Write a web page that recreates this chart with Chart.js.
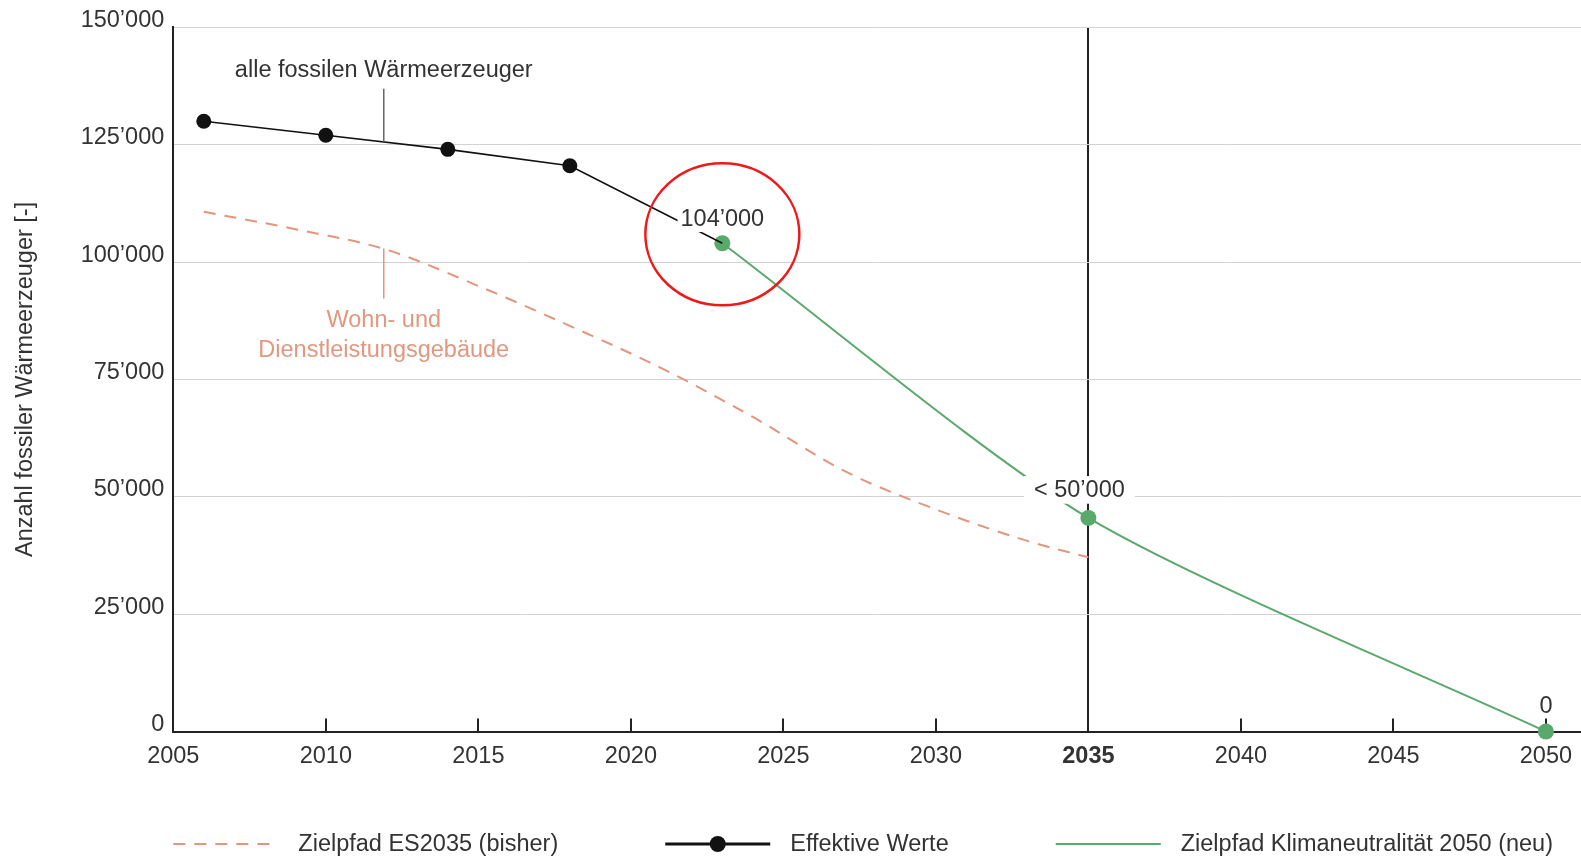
<!DOCTYPE html>
<html>
<head>
<meta charset="utf-8">
<title>Anzahl fossiler Wärmeerzeuger</title>
<script src="https://cdn.jsdelivr.net/npm/chart.js@4/dist/chart.umd.min.js"></script>
<style>
  html, body { margin: 0; padding: 0; background: #fff; overflow: hidden; }
  #wrap { width: 1581px; height: 858px; }
  canvas { display: block; }
</style>
</head>
<body>
<div id="wrap"><canvas id="c" width="1581" height="858"></canvas></div>
<script>
// ---- Daten ----
const effektivJahre = [2006, 2010, 2014, 2018, 2023];
const effektivWerte = [130000, 127000, 124000, 120500, 104000];

const es2035Jahre = [2006, 2009, 2012, 2015, 2018, 2021, 2024, 2027, 2030, 2033, 2035];
const es2035Werte = [110700, 107000, 102600, 94900, 86400, 77400, 67000, 55500, 47300, 40600, 37100];

const klimaJahre = [2023, 2035, 2050];
const klimaWerte = [104000, 45500, 0];
const klimaLabels = ['104\u2019000', '< 50\u2019000', '0'];

const xTickJahre = [2005, 2010, 2015, 2020, 2025, 2030, 2035, 2040, 2045, 2050];
const yTickWerte = [0, 25000, 50000, 75000, 100000, 125000, 150000];

const serienNamen = ['Zielpfad ES2035 (bisher)', 'Effektive Werte', 'Zielpfad Klimaneutralit\u00e4t 2050 (neu)'];
const yTitel = 'Anzahl fossiler W\u00e4rmeerzeuger [-]';
const hinweisFossil = 'alle fossilen W\u00e4rmeerzeuger';
const hinweisGebaeude = ['Wohn- und', 'Dienstleistungsgeb\u00e4ude'];

// ---- Stil ----
const FONT = '"Liberation Sans", Arial, Helvetica, sans-serif';
const FS = 23.5;
const TEXT = '#333333';
const AXIS = '#222222';
const ORANGE = '#e3957d';
const ORANGE_TEXT = '#e0987f';
const GREEN = '#5aa96c';
const BLACK = '#111111';
const RED = '#ee1a1a';

const fmt = v => String(v).replace(/\B(?=(\d{3})+(?!\d))/g, '\u2019');
const pts = (xs, ys) => xs.map((x, i) => ({ x, y: ys[i] }));

// Hinweise mit Führungslinien, verankert an einem Jahr und einem Wert
const hinweise = [
  { jahr: 2011.9, wert: 125600, lines: [hinweisFossil], color: TEXT, leaderColor: '#666', leader: -53, textDy: -71, lineGap: 0 },
  { jahr: 2011.9, wert: 102900, lines: hinweisGebaeude, color: ORANGE_TEXT, leaderColor: ORANGE, leader: 50, textDy: 72, lineGap: 30 }
];
// Wertbeschriftungen der grünen Punkte
const labelStil = [
  { dx: 0, dy: -25, padX: 3, padY: 5 },
  { dx: -9, dy: -28, padX: 10, padY: 5 },
  { dx: 0, dy: -26, padX: 2, padY: 2 }
];
// Roter Kreis um den aktuellen Wert
const markierung = { index: 0, dy: -9, rx: 77, ry: 71 };

const deko = {
  id: 'deko',
  beforeDatasetsDraw(chart) {
    const { ctx, chartArea, scales: { x } } = chart;
    ctx.save();
    ctx.strokeStyle = AXIS;
    ctx.lineWidth = 2;
    xTickJahre.forEach(j => {
      const px = Math.round(x.getPixelForValue(j));
      ctx.beginPath();
      ctx.moveTo(px, chartArea.bottom);
      ctx.lineTo(px, chartArea.bottom - 13);
      ctx.stroke();
    });
    ctx.restore();
  },
  afterDatasetsDraw(chart) {
    const { ctx, scales: { x, y } } = chart;
    ctx.save();
    ctx.font = `${FS}px ${FONT}`;
    ctx.textAlign = 'center';
    ctx.textBaseline = 'middle';

    hinweise.forEach(h => {
      const px = x.getPixelForValue(h.jahr);
      const py = y.getPixelForValue(h.wert);
      ctx.strokeStyle = h.leaderColor;
      ctx.lineWidth = 1.5;
      ctx.beginPath();
      ctx.moveTo(px, py);
      ctx.lineTo(px, py + h.leader);
      ctx.stroke();
      ctx.fillStyle = h.color;
      h.lines.forEach((t, i) => ctx.fillText(t, px, py + h.textDy + i * h.lineGap));
    });

    klimaJahre.forEach((j, i) => {
      const s = labelStil[i];
      const px = x.getPixelForValue(j) + s.dx;
      const py = y.getPixelForValue(klimaWerte[i]) + s.dy;
      const w = ctx.measureText(klimaLabels[i]).width;
      const h = FS * 0.75;
      ctx.fillStyle = '#ffffff';
      ctx.fillRect(px - w / 2 - s.padX, py - h / 2 - s.padY, w + 2 * s.padX, h + 2 * s.padY);
      ctx.fillStyle = TEXT;
      ctx.fillText(klimaLabels[i], px, py + 1);
    });

    const m = markierung;
    const mx = x.getPixelForValue(klimaJahre[m.index]);
    const my = y.getPixelForValue(klimaWerte[m.index]) + m.dy;
    ctx.strokeStyle = RED;
    ctx.lineWidth = 2.5;
    ctx.beginPath();
    ctx.ellipse(mx, my, m.rx, m.ry, 0, 0, Math.PI * 2);
    ctx.stroke();
    ctx.restore();
  },
  afterDraw(chart) {
    // Legende unter dem Diagramm
    const { ctx, chartArea } = chart;
    const yL = 844;
    const lineLen = 105, gap = 20, spacing = 107;
    let cx = chartArea.left;
    ctx.save();
    ctx.font = `${FS}px ${FONT}`;
    ctx.textBaseline = 'middle';
    ctx.textAlign = 'left';
    chart.data.datasets.forEach(ds => {
      ctx.save();
      ctx.strokeStyle = ds.borderColor;
      ctx.lineWidth = ds.legendLineWidth;
      ctx.setLineDash(ds.borderDash || []);
      ctx.beginPath();
      ctx.moveTo(cx, yL);
      ctx.lineTo(cx + lineLen, yL);
      ctx.stroke();
      if (ds.legendDot) {
        ctx.fillStyle = ds.pointBackgroundColor;
        ctx.beginPath();
        ctx.arc(cx + lineLen / 2, yL, 8, 0, Math.PI * 2);
        ctx.fill();
      }
      ctx.restore();
      ctx.fillStyle = TEXT;
      ctx.fillText(ds.label, cx + lineLen + gap, yL + 1);
      cx += lineLen + gap + ctx.measureText(ds.label).width + spacing;
    });
    ctx.restore();
  }
};

new Chart(document.getElementById('c'), {
  type: 'line',
  data: {
    datasets: [
      {
        label: serienNamen[0],
        data: pts(es2035Jahre, es2035Werte),
        borderColor: ORANGE,
        borderWidth: 2,
        borderDash: [12, 9],
        pointRadius: 0,
        tension: 0.4,
        cubicInterpolationMode: 'monotone',
        legendLineWidth: 2
      },
      {
        label: serienNamen[1],
        data: pts(effektivJahre, effektivWerte),
        borderColor: BLACK,
        borderWidth: 1.6,
        pointRadius: [7.5, 7.5, 7.5, 7.5, 0],
        pointBackgroundColor: BLACK,
        pointBorderWidth: 0,
        tension: 0,
        legendLineWidth: 3,
        legendDot: true
      },
      {
        label: serienNamen[2],
        data: pts(klimaJahre, klimaWerte),
        borderColor: GREEN,
        borderWidth: 2,
        pointRadius: 8,
        pointBackgroundColor: GREEN,
        pointBorderWidth: 0,
        tension: 0.25,
        clip: false,
        legendLineWidth: 2
      }
    ]
  },
  options: {
    responsive: false,
    animation: false,
    devicePixelRatio: 1,
    layout: { autoPadding: false, padding: { top: 27.3, right: 0, bottom: 0, left: 0 } },
    plugins: { legend: { display: false }, tooltip: { enabled: false } },
    scales: {
      x: {
        type: 'linear',
        min: 2005,
        max: 2051.15,
        afterBuildTicks: s => { s.ticks = xTickJahre.map(v => ({ value: v })); },
        afterFit: s => { s.height = 126.5; s.paddingLeft = 0; s.paddingRight = 0; },
        border: { display: true, color: AXIS, width: 2 },
        grid: {
          drawTicks: false,
          lineWidth: 2,
          color: c => (c.tick && c.tick.value === 2035 ? AXIS : 'rgba(0,0,0,0)')
        },
        ticks: {
          padding: 11,
          color: TEXT,
          maxRotation: 0,
          autoSkip: false,
          font: c => ({ family: FONT, size: FS, weight: c.tick && c.tick.value === 2035 ? 'bold' : 'normal' }),
          callback: v => String(v)
        }
      },
      y: {
        min: 0,
        max: 150000,
        afterBuildTicks: s => { s.ticks = yTickWerte.map(v => ({ value: v })); },
        afterFit: s => { s.width = 173.3; },
        border: { display: true, color: AXIS, width: 2 },
        grid: { drawTicks: false, color: '#d2d2d2', lineWidth: 1 },
        ticks: {
          padding: 9,
          labelOffset: -7,
          color: TEXT,
          font: { family: FONT, size: FS },
          callback: v => fmt(v)
        },
        title: {
          display: true,
          text: yTitel,
          color: TEXT,
          font: { family: FONT, size: FS },
          padding: { top: 11, bottom: 0 }
        }
      }
    }
  },
  plugins: [deko]
});
</script>
</body>
</html>
